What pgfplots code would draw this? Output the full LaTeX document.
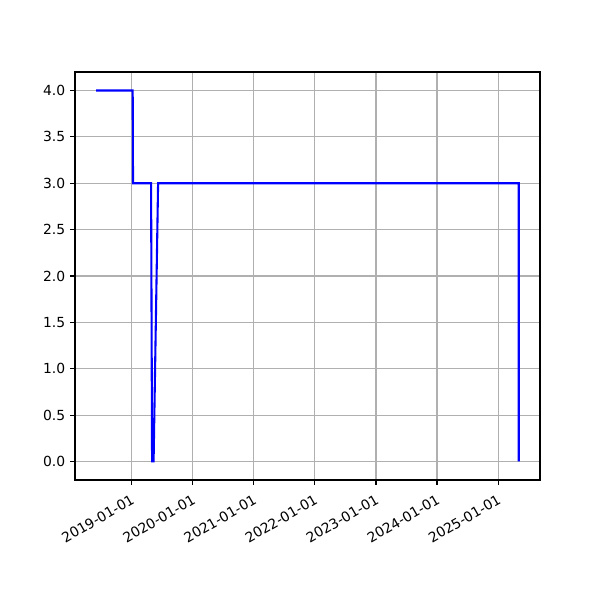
\documentclass[border=0pt]{standalone}
\usepackage{fontspec}
\setmainfont{DejaVu Sans}
\usepackage{pgfplots}
\pgfplotsset{compat=1.18}
\begin{document}
\begin{tikzpicture}
\begin{axis}[
  at={(0,0)}, anchor=south west,
  scale only axis, width=334.8pt, height=293.8pt,
  xmin=-339, xmax=2442, ymin=-0.2, ymax=4.2,
  xtick={0,365,731,1096,1461,1826,2192},
  xticklabels={2019-01-01,2020-01-01,2021-01-01,2022-01-01,2023-01-01,2024-01-01,2025-01-01},
  ytick={0,0.5,1,1.5,2,2.5,3,3.5,4},
  yticklabel style={/pgf/number format/fixed, /pgf/number format/fixed zerofill, /pgf/number format/precision=1},
  /pgf/number format/assume math mode=true,
  xticklabel style={rotate=30, anchor=north east, font=\fontsize{10}{12}\selectfont, inner sep=1pt, xshift=-3pt, yshift=-4pt},
  yticklabel style={font=\fontsize{10}{12}\selectfont},
  tick align=outside, xtick pos=bottom, ytick pos=left,
  major tick length=3.5pt,
  tick style={black, line width=0.8pt},
  grid=major, grid style={color={rgb,255:red,176;green,176;blue,176}, line width=0.8pt},
  axis line style={line width=0.8pt},
]
\addplot[blue, line width=1.5pt] coordinates {
  (-213,4) (6,4) (8,3) (116,3) (122,0) (131,0) (158,3) (2315,3) (2315,0)
};
\end{axis}
\path[use as bounding box] (-54pt,-86.4pt) rectangle (378pt,345.6pt);
\end{tikzpicture}
\end{document}
